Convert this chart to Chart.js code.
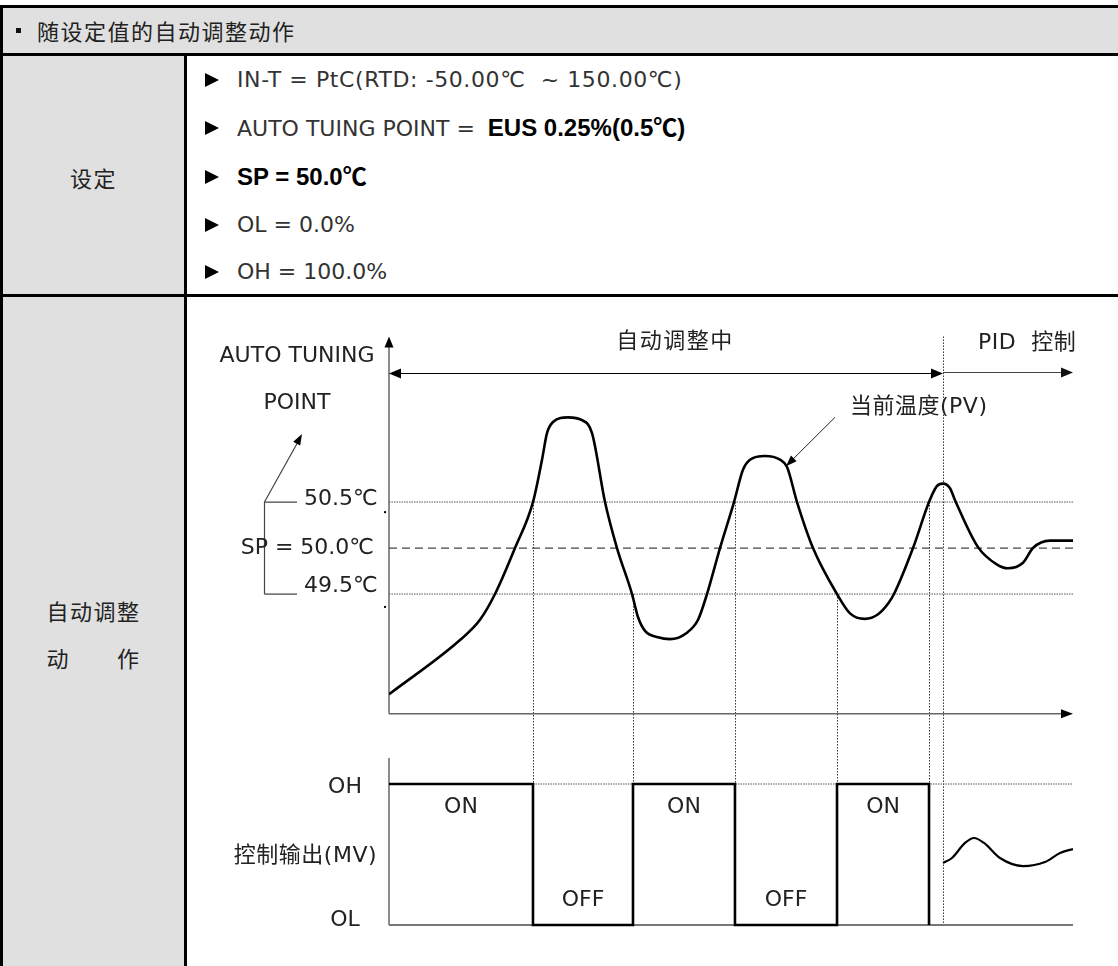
<!DOCTYPE html>
<html><head><meta charset="utf-8">
<script src="https://cdn.jsdelivr.net/npm/chart.js@4.4.0/dist/chart.umd.min.js"></script>
<style>
html,body{margin:0;padding:0;background:#fff;}
body{width:1118px;height:966px;position:relative;overflow:hidden;font-family:"DejaVu Sans","Noto Sans CJK SC",sans-serif;color:#333;}
.ln{position:absolute;background:#000;}
.gray{position:absolute;background:#e0e0e0;}
.t{position:absolute;white-space:nowrap;font-size:22px;line-height:30px;height:30px;}
.cjk{font-family:"Noto Sans CJK SC",sans-serif;letter-spacing:1.5px;}
.tri{position:absolute;left:205px;width:0;height:0;border-left:14px solid #000;border-top:7px solid transparent;border-bottom:7px solid transparent;}
.em{font-family:"Liberation Sans","Noto Sans CJK SC",sans-serif;color:#000;font-size:24px;font-weight:bold;}
#cv{position:absolute;left:187px;top:297px;}
</style></head>
<body>
<div class="gray" style="left:3px;top:8px;width:1115px;height:45px"></div>
<div class="gray" style="left:3px;top:56px;width:181px;height:910px"></div>
<div class="ln" style="left:0;top:5px;width:1118px;height:3px"></div>
<div class="ln" style="left:0;top:5px;width:3px;height:961px"></div>
<div class="ln" style="left:0;top:53px;width:1118px;height:3px"></div>
<div class="ln" style="left:184px;top:53px;width:3px;height:913px"></div>
<div class="ln" style="left:0;top:294px;width:1118px;height:3px"></div>

<div class="ln" style="left:16px;top:28px;width:5px;height:5px;background:#111"></div>
<div class="t cjk" style="left:37px;top:15px;color:#222">随设定值的自动调整动作</div>

<div class="t cjk" style="left:3px;width:181px;text-align:center;top:162px;color:#222">设定</div>

<div class="tri" style="top:73px"></div>
<div class="t" style="left:237px;top:65px;letter-spacing:0.6px">IN-T = PtC(RTD: -50.00℃&nbsp; ~ 150.00℃)</div>
<div class="tri" style="top:121px"></div>
<div class="t" style="left:237px;top:113px">AUTO TUING POINT = <span class="em" style="margin-left:6px">EUS 0.25%(0.5℃)</span></div>
<div class="tri" style="top:170px"></div>
<div class="t" style="left:237px;top:162px"><span class="em">SP = 50.0℃</span></div>
<div class="tri" style="top:218px"></div>
<div class="t" style="left:237px;top:210px">OL = 0.0%</div>
<div class="tri" style="top:265px"></div>
<div class="t" style="left:237px;top:257px">OH = 100.0%</div>

<div class="t cjk" style="left:3px;width:181px;text-align:center;top:595px;color:#222">自动调整</div>
<div class="t cjk" style="left:3px;width:181px;text-align:center;top:642px;color:#222">动　　作</div>

<canvas id="cv" width="931" height="669"></canvas>

<script>
// ---- data ----
// time in arbitrary units (0..100), PV in ℃, MV in %
const pvTime = [0, 10.38, 13.30, 15.50, 18.42, 21.05, 22.37, 23.10, 23.98, 26.17, 28.22, 29.68, 31.58, 33.33, 35.53, 36.40, 37.43, 39.33, 41.08, 43.57, 45.18, 46.49, 48.39, 50.44, 51.75, 52.78, 54.97, 57.16, 58.19, 59.65, 61.99, 65.50, 67.40, 69.59, 71.50, 73.00, 73.83, 76.61, 78.95, 80.07, 80.99, 82.02, 82.75, 86.11, 88.90, 90.50, 92.69, 94.15, 96.64, 100];
const pvTemp = [48.41, 49.00, 49.22, 49.50, 50.00, 50.50, 50.96, 51.25, 51.37, 51.42, 51.39, 51.25, 50.50, 50.00, 49.50, 49.25, 49.10, 49.03, 49.01, 49.08, 49.22, 49.50, 50.00, 50.50, 50.85, 50.96, 51.00, 50.96, 50.88, 50.50, 50.00, 49.50, 49.29, 49.23, 49.28, 49.40, 49.50, 50.00, 50.50, 50.67, 50.70, 50.65, 50.52, 50.01, 49.82, 49.78, 49.84, 50.00, 50.08, 50.08];

const mvTime = [0, 21.05, 35.67, 50.58, 65.50, 78.95];
const mvLevel = [100, 0, 100, 0, 100, 0];
const mvStates = ['ON', 'OFF', 'ON', 'OFF', 'ON'];

const pidTime = [80.99, 82.30, 84.21, 85.53, 86.99, 89.33, 92.69, 95.91, 98.10, 100];
const pidMv = [44.0, 47.5, 58.2, 61.7, 58.2, 47.5, 41.8, 44.7, 51.1, 53.9];

const SP = 50.0, AT_HI = 50.5, AT_LO = 49.5;   // auto tuning point ±0.5℃
const OH = 100, OL = 0;
const switchTemp = [AT_HI, AT_LO, AT_HI, AT_LO, AT_HI];
const pidStart = 80.99;
const T_END = 100;

// scale ranges
const PV_MIN = 45.685, PV_MAX = 52.370;
const MV_MIN = -14.18, MV_MAX = 422.0;
const timeAxisT = 48.2, pvAxisTopT = 52.3, phaseArrowT = 51.9;

const FONT_L = '22px "DejaVu Sans", "Noto Sans CJK SC", sans-serif';
const FONT_C = '22px "Noto Sans CJK SC", sans-serif';

function seg(t0, t1, v) { return [{x: t0, y: v}, {x: t1, y: v}]; }

const deco = {
  id: 'deco',
  beforeDatasetsDraw(chart) {
    const {ctx, scales: {x, y, y2}} = chart;
    const X = v => x.getPixelForValue(v), Y = v => y.getPixelForValue(v), Y2 = v => y2.getPixelForValue(v);
    const line = (a, b, c, d) => { ctx.beginPath(); ctx.moveTo(a, b); ctx.lineTo(c, d); ctx.stroke(); };
    ctx.save();
    ctx.strokeStyle = '#333'; ctx.lineWidth = 1; ctx.setLineDash([1.5, 1.5]);
    mvTime.slice(1).forEach((t, i) => {
      const px = Math.round(X(t)) + 0.5;
      line(px, Y(switchTemp[i]), px, Y2(OH));
    });
    const pp = Math.round(X(pidStart)) + 0.5;
    line(pp, Y(pvAxisTopT), pp, Y2(OL));
    ctx.setLineDash([]);
    ctx.strokeStyle = '#666'; ctx.lineWidth = 1.5;
    const x0 = X(0);
    line(x0, Y(timeAxisT), x0, Y(pvAxisTopT) + 8);
    line(x0, Y(timeAxisT), X(T_END) - 8, Y(timeAxisT));
    line(x0, Y2(118.4), x0, Y2(OL));
    ctx.restore();
  },
  afterDatasetsDraw(chart) {
    const {ctx, scales: {x, y, y2}} = chart;
    const X = v => x.getPixelForValue(v), Y = v => y.getPixelForValue(v), Y2 = v => y2.getPixelForValue(v);
    const line = (a, b, c, d) => { ctx.beginPath(); ctx.moveTo(a, b); ctx.lineTo(c, d); ctx.stroke(); };
    const head = (tx, ty, ang, len, w) => {
      ctx.save(); ctx.translate(tx, ty); ctx.rotate(ang);
      ctx.beginPath(); ctx.moveTo(0, 0); ctx.lineTo(-len, -w / 2); ctx.lineTo(-len, w / 2); ctx.closePath();
      ctx.fill(); ctx.restore();
    };
    const txt = (s, px, py, align, font, color, sp) => {
      ctx.save(); ctx.font = font; ctx.fillStyle = color || '#222'; ctx.textAlign = align; ctx.textBaseline = 'middle';
      try { ctx.letterSpacing = sp || '0px'; } catch (e) {}
      ctx.fillText(s, px, py); ctx.restore();
    };
    ctx.save();
    const x0 = X(0);
    ctx.fillStyle = '#000';
    head(x0, Y(pvAxisTopT), -Math.PI / 2, 11, 9);
    head(X(T_END), Y(timeAxisT), 0, 12, 9);
    ctx.strokeStyle = '#000'; ctx.lineWidth = 1.2;
    const ya = Math.round(Y(phaseArrowT)) + 0.5;
    line(x0 + 6, ya, X(pidStart) - 6, ya);
    head(x0, ya, Math.PI, 12, 10);
    head(X(pidStart), ya, 0, 12, 10);
    ctx.strokeStyle = '#444';
    line(X(pidStart), ya - 1, X(T_END) - 6, ya - 1);
    ctx.fillStyle = '#111';
    head(X(T_END), ya - 1, 0, 12, 10);
    ctx.strokeStyle = '#444'; ctx.lineWidth = 1.2; ctx.fillStyle = '#000';
    const bx = Math.round(X(-18.27)) + 0.5, bx2 = X(-13.45);
    line(bx, Y(AT_HI), bx, Y(AT_LO));
    line(bx, Y(AT_HI), bx2, Y(AT_HI));
    line(bx, Y(AT_LO), bx2, Y(AT_LO));
    const ax = X(-12.72), ay = Y(51.24);
    line(bx, Y(AT_HI), ax - 3, ay + 6);
    head(ax, ay, Math.atan2(ay - Y(AT_HI), ax - bx), 11, 8);
    ctx.fillRect(X(-0.58) - 1, Y(50.39) - 1, 2, 2);
    ctx.fillRect(X(-0.58) - 1, Y(49.36) - 1, 2, 2);
    ctx.strokeStyle = '#222'; ctx.lineWidth = 1;
    const lx = X(65.2), ly = Y(51.42), tx = X(58.04), ty = Y(50.89);
    line(lx, ly, tx + 5, ty - 5);
    head(tx, ty, Math.atan2(ty - ly, tx - lx), 11, 8);

    txt('AUTO TUNING', X(-13.45), Y(52.08), 'center', FONT_L);
    txt('POINT', X(-13.45), Y(51.57), 'center', FONT_L);
    txt('50.5℃', X(-12.43), Y(50.533), 'left', FONT_L);
    txt('SP = 50.0℃', X(-2.19), Y(SP), 'right', FONT_L);
    txt('49.5℃', X(-12.43), Y(49.587), 'left', FONT_L);
    txt('自动调整中', X(41.8), Y(52.26), 'center', FONT_C, '#222', '1.5px');
    txt('PID  控制', X(93.3), Y(52.23), 'center', FONT_L, '#222', '0.5px');
    txt('当前温度(PV)', X(67.4), Y(51.53), 'left', FONT_L, '#222', '0.5px');
    txt('OH', X(-6.43), Y2(97.9), 'center', FONT_L);
    txt('控制输出(MV)', X(-1.75), Y2(48.9), 'right', FONT_L, '#222', '0.5px');
    txt('OL', X(-6.43), Y2(3.5), 'center', FONT_L);
    for (let i = 0; i < mvStates.length; i++) {
      const mid = (mvTime[i] + mvTime[i + 1]) / 2;
      txt(mvStates[i], X(mid), Y2(mvStates[i] === 'ON' ? 83.7 : 17.7), 'center', FONT_L);
    }
    ctx.restore();
  }
};

new Chart(document.getElementById('cv'), {
  type: 'line',
  data: {
    datasets: [
      {data: pvTime.map((t, i) => ({x: t, y: pvTemp[i]})), yAxisID: 'y', borderColor: '#000', borderWidth: 2.6,
       pointRadius: 0, cubicInterpolationMode: 'monotone', order: 0},
      {data: mvTime.map((t, i) => ({x: t, y: mvLevel[i]})), yAxisID: 'y2', borderColor: '#000', borderWidth: 2.6,
       pointRadius: 0, stepped: 'before', borderJoinStyle: 'miter', order: 0},
      {data: pidTime.map((t, i) => ({x: t, y: pidMv[i]})), yAxisID: 'y2', borderColor: '#000', borderWidth: 2.2,
       pointRadius: 0, cubicInterpolationMode: 'monotone', order: 0},
      {data: seg(0, T_END, SP), yAxisID: 'y', borderColor: '#444', borderWidth: 1.3, borderDash: [8, 5], pointRadius: 0, order: 5},
      {data: seg(0, T_END, AT_HI), yAxisID: 'y', borderColor: '#555', borderWidth: 1, borderDash: [1.5, 1], pointRadius: 0, order: 5},
      {data: seg(0, T_END, AT_LO), yAxisID: 'y', borderColor: '#555', borderWidth: 1, borderDash: [1.5, 1], pointRadius: 0, order: 5},
      {data: seg(mvTime[1], T_END, OH), yAxisID: 'y2', borderColor: '#555', borderWidth: 1, borderDash: [1.5, 1], pointRadius: 0, order: 5},
      {data: seg(0, T_END, OL), yAxisID: 'y2', borderColor: '#777', borderWidth: 2, pointRadius: 0, order: 6}
    ]
  },
  options: {
    responsive: false, animation: false, devicePixelRatio: 1,
    layout: {padding: {left: 202, right: 45, top: 33, bottom: 21}},
    plugins: {legend: {display: false}, tooltip: {enabled: false}},
    scales: {
      x: {type: 'linear', min: 0, max: T_END, display: false},
      y: {type: 'linear', min: PV_MIN, max: PV_MAX, display: false},
      y2: {type: 'linear', min: MV_MIN, max: MV_MAX, display: false}
    }
  },
  plugins: [deco]
});
</script>
</body></html>
